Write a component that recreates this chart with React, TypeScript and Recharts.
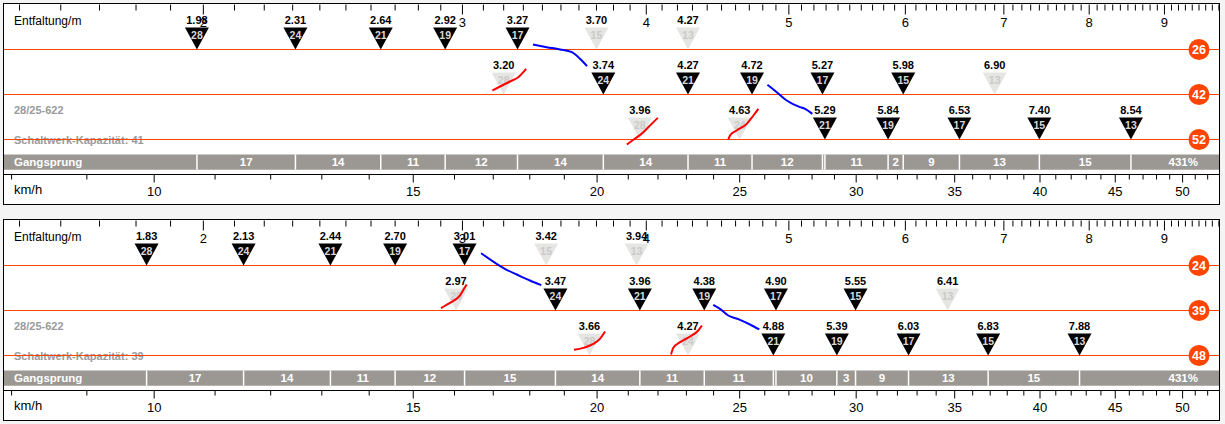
import React from 'react';
import { ComposedChart, XAxis, YAxis, Scatter, ReferenceLine, ReferenceArea } from 'recharts';

const FONT = '"Liberation Sans", Arial, Helvetica, sans-serif';
const ORANGE = '#ff4500';
const BAR_GREY = '#9b9792';

// development (m) -> speed (km/h) at 90 rpm
const KMH_PER_M = 5.4;
const DEV_MIN = 1.464;
const DEV_MAX = 9.802;
// vertical units: one chainring row = 45px
const Y_MIN = -0.5 / 45;
const Y_MAX = 199.5 / 45;
const BAR_TOP = 3.333;
const BAR_BOTTOM = 3.673;
const BAR_MID = 3.504;
const AXIS_Y = 170 / 45;

const DEV_TICKS = Array.from({ length: 84 }, (_, i) => (15 + i) / 10);
const KMH_TICKS = Array.from({ length: 45 }, (_, i) => 8 + i);

const COGS = [28, 24, 21, 19, 17, 15, 13];
const USED = [
  [1, 1, 1, 1, 1, 0, 0],
  [0, 1, 1, 1, 1, 1, 0],
  [0, 0, 1, 1, 1, 1, 1],
];
const TIRE = '28/25-622';

// panel 1: 26/42/52
const RINGS_A = [26, 42, 52];
const DEV_A = [
  [1.98, 2.31, 2.64, 2.92, 3.27, 3.7, 4.27],
  [3.2, 3.74, 4.27, 4.72, 5.27, 5.98, 6.9],
  [3.96, 4.63, 5.29, 5.84, 6.53, 7.4, 8.54],
];
const STEPS_A = ['17', '14', '11', '12', '14', '14', '11', '12', '', '11', '2', '9', '13', '15'];
const RANGE_A = '431%';
const CAPACITY_A = 41;
const RED_A = [
  [[3.144, 1.911], [3.182, 1.822], [3.232, 1.711], [3.274, 1.615], [3.3, 1.504], [3.314, 1.429]],
  [[3.88, 3.111], [3.92, 3.007], [3.982, 2.837], [4.034, 2.652], [4.073, 2.519]],
  [[4.548, 3.007], [4.56, 2.911], [4.608, 2.8], [4.681, 2.652], [4.73, 2.467], [4.767, 2.319]],
];
const BLUE_A = [
  [[3.35, 0.889], [3.423, 0.948], [3.495, 1.0], [3.56, 1.059], [3.606, 1.207], [3.646, 1.371]],
  [[4.835, 1.785], [4.906, 1.948], [4.983, 2.133], [5.088, 2.281], [5.128, 2.319], [5.187, 2.43]],
];

// panel 2: 24/39/48
const RINGS_B = [24, 39, 48];
const DEV_B = [
  [1.83, 2.13, 2.44, 2.7, 3.01, 3.42, 3.94],
  [2.97, 3.47, 3.96, 4.38, 4.9, 5.55, 6.41],
  [3.66, 4.27, 4.88, 5.39, 6.03, 6.83, 7.88],
];
const STEPS_B = ['17', '14', '11', '12', '15', '14', '11', '11', '', '10', '3', '9', '13', '15'];
const RANGE_B = '431%';
const CAPACITY_B = 39;
const RED_B = [
  [[2.901, 1.948], [2.934, 1.852], [2.965, 1.763], [2.988, 1.667], [3.007, 1.519], [3.02, 1.422]],
  [[3.572, 2.874], [3.625, 2.83], [3.682, 2.741], [3.72, 2.63], [3.75, 2.467]],
  [[4.158, 2.978], [4.173, 2.83], [4.217, 2.704], [4.284, 2.578], [4.339, 2.444], [4.364, 2.333]],
];
const BLUE_B = [
  [[3.089, 0.726], [3.165, 0.963], [3.215, 1.096], [3.266, 1.2], [3.334, 1.333], [3.394, 1.437]],
  [[4.442, 1.874], [4.489, 1.963], [4.548, 2.111], [4.632, 2.207], [4.705, 2.311], [4.774, 2.422]],
];

const TopTick = (p: any) => {
  const v = p.payload.v;
  const major = Math.abs(v - Math.round(v)) < 1e-6;
  return (
    <g>
      <line x1={p.cx} x2={p.cx} y1={p.cy} y2={p.cy + (major ? 10 : 6)} stroke="#000" />
      {major && (
        <text x={p.cx} y={p.cy + 22} textAnchor="middle" fontSize={13} fontFamily={FONT} fill="#000">
          {Math.round(v)}
        </text>
      )}
    </g>
  );
};

const BottomTick = (p: any) => {
  const v = p.payload.k;
  const major = v % 5 === 0;
  return (
    <g>
      <line x1={p.cx} x2={p.cx} y1={p.cy} y2={p.cy + (major ? 8 : 5)} stroke="#000" />
      {major && (
        <text x={p.cx} y={p.cy + 21} textAnchor="middle" fontSize={13} fontFamily={FONT} fill="#000">
          {v}
        </text>
      )}
    </g>
  );
};

const Gear = (p: any) => {
  const { cx, cy, payload } = p;
  const used = payload.used;
  return (
    <g>
      <text x={cx} y={cy - 26} textAnchor="middle" fontSize={11} fontWeight="bold" fontFamily={FONT} fill="#000">
        {payload.x.toFixed(2)}
      </text>
      <polygon
        points={`${cx - 12},${cy - 22} ${cx + 12},${cy - 22} ${cx},${cy}`}
        fill={used ? '#000' : '#e5e5e3'}
      />
      <text
        x={cx}
        y={cy - 11}
        textAnchor="middle"
        fontSize={10.5}
        fontWeight="bold"
        fontFamily={FONT}
        fill={used ? '#d8d8d8' : '#cacaca'}
      >
        {payload.cog}
      </text>
    </g>
  );
};

const Ring = (p: any) => (
  <g>
    <circle cx={p.cx - 20} cy={p.cy} r={10.5} fill={ORANGE} />
    <text x={p.cx - 20} y={p.cy + 4.5} textAnchor="middle" fontSize={12.5} fontWeight="bold" fontFamily={FONT} fill="#fff">
      {p.payload.ring}
    </text>
  </g>
);

const StepLabel = (p: any) => (
  <text x={p.cx} y={p.cy + 4} textAnchor="middle" fontSize={11.5} fontWeight="bold" fontFamily={FONT} fill="#fff">
    {p.payload.label}
  </text>
);

const BarTitle = (p: any) => (
  <text x={p.cx + 10} y={p.cy + 4} textAnchor="start" fontSize={11.5} fontWeight="bold" fontFamily={FONT} fill="#fff">
    Gangsprung
  </text>
);

const RangeLabel = (p: any) => (
  <text x={p.cx - 21} y={p.cy + 4} textAnchor="end" fontSize={11.5} fontWeight="bold" fontFamily={FONT} fill="#fff">
    {p.payload.label}
  </text>
);

const NoDot = () => <g />;

const toPts = (s: number[][]) => s.map(([x, y]) => ({ x, y }));

const topTickData = DEV_TICKS.map((v) => ({ x: v, y: 0, v }));
const bottomTickData = KMH_TICKS.map((k) => ({ x: k / KMH_PER_M, y: AXIS_Y, k }));

const labelStyle = (top: number, extra: React.CSSProperties = {}): React.CSSProperties => ({
  position: 'absolute',
  left: 10,
  top,
  lineHeight: '14px',
  fontFamily: FONT,
  whiteSpace: 'nowrap',
  ...extra,
});

function Panel({ rings, devs, steps, range, capacity, red, blue }: any) {
  const gears = rings.flatMap((ring: number, r: number) =>
    devs[r].map((d: number, i: number) => ({ x: d, y: r + 1, cog: COGS[i], used: USED[r][i] === 1 }))
  );
  const shifts = gears
    .filter((g: any) => g.used)
    .map((g: any) => g.x)
    .sort((a: number, b: number) => a - b);
  const stepLabels = steps
    .map((s: string, i: number) => ({ x: Math.sqrt(shifts[i] * shifts[i + 1]), y: BAR_MID, label: s }))
    .filter((s: any) => s.label);
  const ringData = rings.map((ring: number, r: number) => ({ x: DEV_MAX, y: r + 1, ring }));

  return (
    <div style={{ position: 'relative', width: 1215, height: 200, border: '1px solid #000', background: '#fff' }}>
      <div style={labelStyle(10, { fontSize: 12, color: '#000' })}>Entfaltung/m</div>
      <div style={labelStyle(99, { fontSize: 11, fontWeight: 'bold', color: '#9a9a9a' })}>{TIRE}</div>
      <div style={labelStyle(129, { fontSize: 11, fontWeight: 'bold', color: '#9a9a9a' })}>
        Schaltwerk-Kapazität: {capacity}
      </div>
      <div style={labelStyle(179, { fontSize: 13, color: '#000' })}>km/h</div>
      <ComposedChart width={1215} height={200} margin={{ top: 0, right: 0, bottom: 0, left: 0 }}>
        <XAxis
          xAxisId="m"
          dataKey="x"
          type="number"
          scale="log"
          domain={[DEV_MIN, DEV_MAX]}
          allowDataOverflow
          hide
        />
        <YAxis yAxisId="y" dataKey="y" type="number" domain={[Y_MIN, Y_MAX]} reversed hide allowDataOverflow />

        <ReferenceArea
          xAxisId="m"
          yAxisId="y"
          x1={DEV_MIN}
          x2={DEV_MAX}
          y1={BAR_TOP}
          y2={BAR_BOTTOM}
          fill={BAR_GREY}
          fillOpacity={1}
          stroke="none"
        />
        {shifts.map((d: number, i: number) => (
          <ReferenceLine
            key={'div' + i}
            xAxisId="m"
            yAxisId="y"
            segment={[
              { x: d, y: BAR_TOP },
              { x: d, y: BAR_BOTTOM },
            ]}
            stroke="#fff"
            strokeWidth={1.5}
          />
        ))}
        {rings.map((ring: number, r: number) => (
          <ReferenceLine key={'ring' + ring} xAxisId="m" yAxisId="y" y={r + 1} stroke={ORANGE} strokeWidth={1} />
        ))}
        <ReferenceLine xAxisId="m" yAxisId="y" y={AXIS_Y} stroke="#000" strokeWidth={1} />

        <Scatter xAxisId="m" yAxisId="y" data={topTickData} shape={TopTick} isAnimationActive={false} />
        <Scatter xAxisId="m" yAxisId="y" data={bottomTickData} shape={BottomTick} isAnimationActive={false} />

        <Scatter xAxisId="m" yAxisId="y" data={gears} shape={Gear} isAnimationActive={false} />
        {red.map((s: number[][], i: number) => (
          <Scatter
            key={'red' + i}
            xAxisId="m"
            yAxisId="y"
            data={toPts(s)}
            line={{ stroke: '#ff0000', strokeWidth: 2 }}
            lineJointType="monotoneX"
            shape={NoDot}
            isAnimationActive={false}
          />
        ))}
        {blue.map((s: number[][], i: number) => (
          <Scatter
            key={'blue' + i}
            xAxisId="m"
            yAxisId="y"
            data={toPts(s)}
            line={{ stroke: '#0000ff', strokeWidth: 2 }}
            lineJointType="monotoneX"
            shape={NoDot}
            isAnimationActive={false}
          />
        ))}
        <Scatter xAxisId="m" yAxisId="y" data={ringData} shape={Ring} isAnimationActive={false} />
        <Scatter xAxisId="m" yAxisId="y" data={stepLabels} shape={StepLabel} isAnimationActive={false} />
        <Scatter xAxisId="m" yAxisId="y" data={[{ x: DEV_MIN, y: BAR_MID }]} shape={BarTitle} isAnimationActive={false} />
        <Scatter
          xAxisId="m"
          yAxisId="y"
          data={[{ x: DEV_MAX, y: BAR_MID, label: range }]}
          shape={RangeLabel}
          isAnimationActive={false}
        />
      </ComposedChart>
    </div>
  );
}

export default function App() {
  return (
    <div style={{ padding: '3px 0 0 3px' }}>
      <style>{'body{margin:0;background:#f4f4f4;}'}</style>
      <Panel rings={RINGS_A} devs={DEV_A} steps={STEPS_A} range={RANGE_A} capacity={CAPACITY_A} red={RED_A} blue={BLUE_A} />
      <div style={{ height: 14 }} />
      <Panel rings={RINGS_B} devs={DEV_B} steps={STEPS_B} range={RANGE_B} capacity={CAPACITY_B} red={RED_B} blue={BLUE_B} />
    </div>
  );
}
